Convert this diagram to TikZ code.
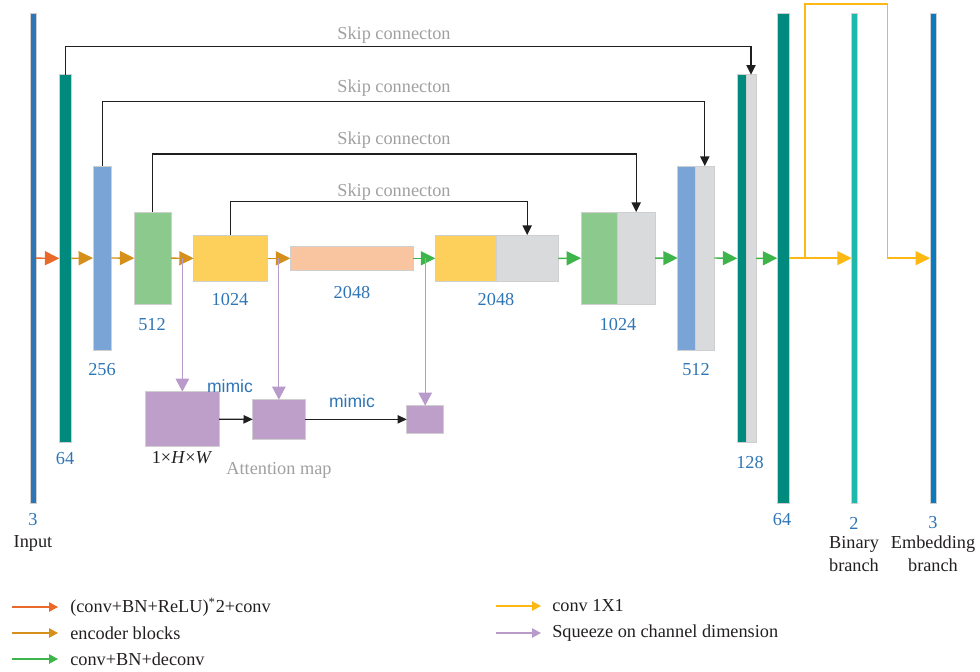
\documentclass[tikz,border=0pt]{standalone}
\usepackage{fontspec}
\setmainfont{Liberation Serif}
\newfontfamily\mimicfont{Liberation Sans}
\usepackage{xcolor}
\usetikzlibrary{arrows.meta, positioning, calc, fit}
\definecolor{UNInBlue}{RGB}{46, 117, 182}
\definecolor{UNTeal}{RGB}{0, 137, 125}
\definecolor{UNSky}{RGB}{123, 164, 214}
\definecolor{UNGreen}{RGB}{140, 201, 140}
\definecolor{UNYellow}{RGB}{253, 208, 92}
\definecolor{UNPeach}{RGB}{249, 196, 160}
\definecolor{UNGray}{RGB}{217, 218, 220}
\definecolor{UNTurq}{RGB}{31, 184, 170}
\definecolor{UNEmbBlue}{RGB}{10, 123, 193}
\definecolor{UNPurple}{RGB}{189, 159, 202}
\definecolor{UNBorder}{RGB}{207, 207, 207}
\definecolor{UNOrangeArr}{RGB}{232, 105, 42}
\definecolor{UNEncArr}{RGB}{212, 144, 26}
\definecolor{UNGreenArr}{RGB}{61, 181, 74}
\definecolor{UNYellowArr}{RGB}{253, 184, 19}
\definecolor{UNPurpleArr}{RGB}{184, 155, 203}
\definecolor{UNNumBlue}{RGB}{46, 117, 182}
\definecolor{UNTextGray}{RGB}{160, 160, 160}
\definecolor{UNTextDark}{RGB}{35, 31, 32}

\tikzset{
  blk/.style={draw=UNBorder, line width=0.6pt, inner sep=0pt, outer sep=0pt},
  numlbl/.style={text=UNNumBlue, font=\fontsize{13}{15}\selectfont, inner sep=0pt},
  skiplbl/.style={text=UNTextGray, font=\fontsize{13}{15}\selectfont, inner sep=0pt},
  darklbl/.style={text=UNTextDark, font=\fontsize{13}{15}\selectfont, inner sep=0pt, align=center},
  mimiclbl/.style={text=UNNumBlue, font=\mimicfont\fontsize{12.5}{14}\selectfont, inner sep=0pt},
  flow/.style={line width=1pt, -{Triangle[length=3.6mm, width=3.5mm]}},
  skiparr/.style={draw=black!88, line width=0.9pt, -{Triangle[length=2.4mm, width=2.3mm]}},
  mimicarr/.style={draw=black!88, line width=0.9pt, -{Triangle[length=2.3mm, width=2.1mm]}},
  sqarr/.style={draw=UNPurpleArr, line width=0.9pt, -{Triangle[length=3.3mm, width=3.4mm]}},
  legarr/.style={line width=1pt, -{Triangle[length=2.2mm, width=2.3mm]}},
}

\begin{document}
\begin{tikzpicture}[x=0.025cm, y=-0.025cm]
  \path[use as bounding box] (0,0) rectangle (980,671);

  % encoder
  \node[blk, fill=UNInBlue, fit={(30,13.3) (36,503)}] (inp) {};
  \node[blk, fill=UNTeal, fit={(59.3,74.7) (71.3,442)}] (e64) {};
  \node[blk, fill=UNSky, fit={(93,166) (111.3,350)}] (e256) {};
  \node[blk, fill=UNGreen, fit={(134.3,212) (171,304.3)}] (e512) {};
  \node[blk, fill=UNYellow, fit={(193.7,235) (267.7,281.7)}] (e1024) {};
  \node[blk, fill=UNPeach, fit={(290.3,246.7) (413,270)}] (mid) {};

  % decoder (upsampled part + copied part)
  \node[blk, fill=UNYellow, fit={(435.3,235) (496,281.7)}] (d2048a) {};
  \node[blk, fill=UNGray, fit={(496,235) (558.3,281.7)}] (d2048b) {};
  \node[blk, fill=UNGreen, fit={(581,212) (617.3,304.3)}] (d1024a) {};
  \node[blk, fill=UNGray, fit={(617.3,212) (655,304.3)}] (d1024b) {};
  \node[blk, fill=UNSky, fit={(677.7,166) (695.3,350)}] (d512a) {};
  \node[blk, fill=UNGray, fit={(695.3,166) (714.3,350)}] (d512b) {};
  \node[blk, fill=UNTeal, fit={(737.3,74.7) (746,442)}] (d128a) {};
  \node[blk, fill=UNGray, fit={(746,74.7) (756,442)}] (d128b) {};
  \node[blk, fill=UNTeal, fit={(777.3,13.3) (789,503)}] (out) {};
  \node[blk, fill=UNTurq, fit={(851.7,13.3) (857.3,503)}] (bin) {};
  \node[blk, fill=UNEmbBlue, fit={(930,13.3) (936,503)}] (emb) {};

  % attention maps
  \node[blk, fill=UNPurple, fit={(145.7,391.7) (219,446.7)}] (att1) {};
  \node[blk, fill=UNPurple, fit={(252.7,399.7) (305,439)}] (att2) {};
  \node[blk, fill=UNPurple, fit={(406.7,405.7) (443.7,433)}] (att3) {};

  % main flow
  \draw[flow, UNOrangeArr] (inp.east) -- (e64.west);
  \draw[flow, UNEncArr] (e64.east) -- (e256.west);
  \draw[flow, UNEncArr] (e256.east) -- (e512.west);
  \draw[flow, UNEncArr] (e512.east) -- (e1024.west);
  \draw[flow, UNEncArr] (e1024.east) -- (mid.west);
  \draw[flow, UNGreenArr] (mid.east) -- (d2048a.west);
  \draw[flow, UNGreenArr] (d2048b.east) -- (d1024a.west);
  \draw[flow, UNGreenArr] (d1024b.east) -- (d512a.west);
  \draw[flow, UNGreenArr] (d512b.east) -- (d128a.west);
  \draw[flow, UNGreenArr] (d128b.east) -- (out.west);
  \draw[flow, UNYellowArr] (out.east) -- (bin.west);
  \coordinate (ysplitA) at (805,4);
  \coordinate (ysplitB) at (887.3,4);
  \draw[flow, UNYellowArr] (out.east -| ysplitA) -- (ysplitA) -- (ysplitB) |- (emb.west);

  % skip connections
  \draw[skiparr] (e64.north) -- ++(0,-28) -| (d128b.north);
  \draw[skiparr] (e256.north) -- ++(0,-64.3) -| (d512b.north);
  \draw[skiparr] (e512.north) -- ++(0,-58) -| (d1024b.north);
  \draw[skiparr] (e1024.north) -- ++(0,-33.3) -| (d2048b.north);
  \node[skiplbl] (sk1) at (394,35) {Skip connecton};
  \node[skiplbl] (sk2) at (394,87.7) {Skip connecton};
  \node[skiplbl] (sk3) at (394,140) {Skip connecton};
  \node[skiplbl] (sk4) at (394,191.7) {Skip connecton};

  % squeeze + mimic
  \draw[sqarr] (att1.north |- e512.east) -- (att1.north);
  \draw[sqarr] (att2.north |- e1024.east) -- (att2.north);
  \draw[sqarr] (att3.north |- mid.east) -- (att3.north);
  \draw[mimicarr] (att1.east) -- (att2.west);
  \draw[mimicarr] (att2.east) -- (att3.west);
  \node[mimiclbl] (mim1) at (230,386) {mimic};
  \node[mimiclbl] (mim2) at (352,401) {mimic};
  \node[darklbl] (hw) at (182,458) {1×\textit{H}×\textit{W}};
  \node[skiplbl] (attlbl) at (279,470) {Attention map};

  % channel numbers
  \node[numlbl] (n3) at (33,520) {3};
  \node[darklbl] (inlbl) at (33,543) {Input};
  \node[numlbl] (n64) at (65,459) {64};
  \node[numlbl] (n256) at (102,370) {256};
  \node[numlbl] (n512) at (152,325) {512};
  \node[numlbl] (n1024) at (230,300) {1024};
  \node[numlbl] (n2048) at (352,293) {2048};
  \node[numlbl] (nd2048) at (496,300) {2048};
  \node[numlbl] (nd1024) at (618,325) {1024};
  \node[numlbl] (nd512) at (696,370) {512};
  \node[numlbl] (nd128) at (750,463) {128};
  \node[numlbl] (nout) at (782,520) {64};
  \node[numlbl] (nbin) at (854,523) {2};
  \node[darklbl] (binlbl) at (854,554) {Binary\\[1.5pt]branch};
  \node[numlbl] (nemb) at (933,523) {3};
  \node[darklbl] (emblbl) at (933,554) {Embedding\\[1.5pt]branch};

  % legend
  \coordinate (k1) at (12,607);
  \coordinate (k2) at (12,633);
  \coordinate (k3) at (12,659);
  \coordinate (k4) at (496,606);
  \coordinate (k5) at (496,633);
  \draw[legarr, UNOrangeArr] (k1) -- ++(46,0);
  \draw[legarr, UNEncArr] (k2) -- ++(46,0);
  \draw[legarr, UNGreenArr] (k3) -- ++(46,0);
  \draw[legarr, UNYellowArr] (k4) -- ++(45,0);
  \draw[legarr, UNPurpleArr] (k5) -- ++(45,0);
  \node[darklbl, anchor=west] (lg1) at (70,607) {(conv+BN+ReLU)\textsuperscript{*}2+conv};
  \node[darklbl, anchor=west] (lg2) at (70,633) {encoder blocks};
  \node[darklbl, anchor=west] (lg3) at (70,659) {conv+BN+deconv};
  \node[darklbl, anchor=west] (lg4) at (552,606) {conv 1X1};
  \node[darklbl, anchor=west] (lg5) at (552,633) {Squeeze on channel dimension};
\end{tikzpicture}
\end{document}
